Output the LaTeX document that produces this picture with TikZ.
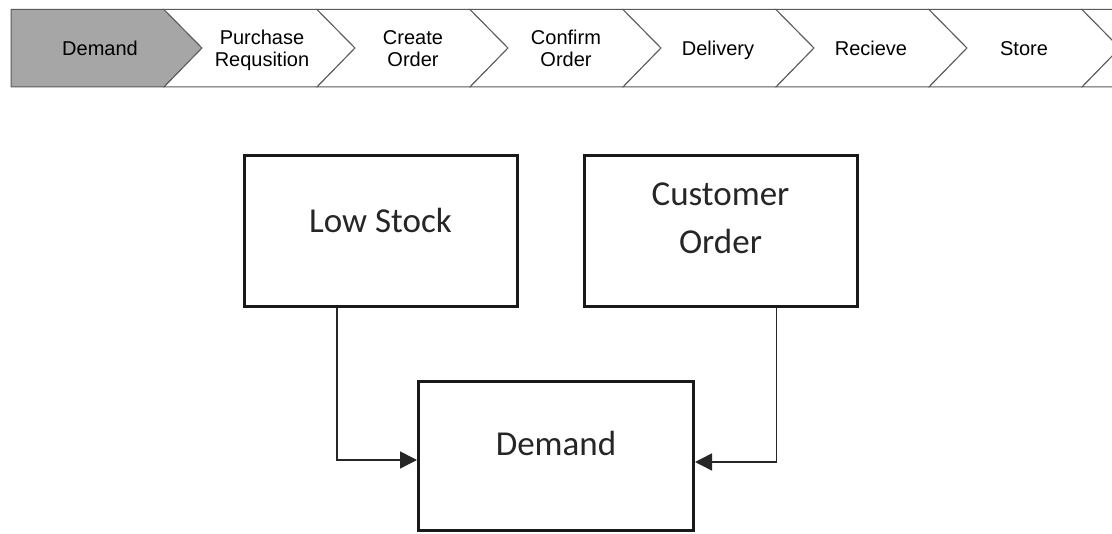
\documentclass[tikz,border=0pt]{standalone}
\usepackage{fontspec}
\setmainfont{Liberation Sans}
\newfontfamily\boxfont{Carlito}
\usetikzlibrary{arrows.meta}

\definecolor{stepline}{HTML}{5A5A5A}
\definecolor{stepfill}{HTML}{A6A6A6}

\tikzset{
  chevron/.style={draw=stepline, line width=1pt, line join=miter},
  steptext/.style={font=\fontsize{20}{22}\selectfont, align=center, inner sep=0pt, text=black},
  blockbox/.style={draw=black!90, line width=3pt, minimum width=273pt, minimum height=151pt, inner sep=0pt},
  blocktext/.style={font=\boxfont\fontsize{35}{48}\selectfont, align=center, inner sep=0pt, text=black!85},
  conn/.style={draw=black!85, line width=1.5pt, -{Triangle[length=17pt,width=17pt]}}
}

\begin{document}
\begin{tikzpicture}[x=1pt, y=-1pt]
  \useasboundingbox (0,0) rectangle (1112,534);
  \clip (0,0) rectangle (1112,534);

  % process chevrons along the top
  \def\ya{9.5}\def\yb{48}\def\yc{87}\def\dp{38}
  \fill[white] (0,0) rectangle (1112,534);
  \path[chevron, fill=stepfill] (11,\ya) -- (164,\ya) -- (164+\dp,\yb) -- (164,\yc) -- (11,\yc) -- cycle;
  \foreach \l/\r in {164/317, 317/470, 470/623, 623/776, 776/929, 929/1082, 1082/1235} {
    \path[chevron, fill=white] (\l,\ya) -- (\r,\ya) -- (\r+\dp,\yb) -- (\r,\yc) -- (\l,\yc) -- (\l+\dp,\yb) -- cycle;
  }

  \node[steptext] (s1) at (100,48.5) {Demand};
  \node[steptext] (s2) at (262,48.5) {Purchase\\Requsition};
  \node[steptext] (s3) at (413,48.5) {Create\\Order};
  \node[steptext] (s4) at (566,48.5) {Confirm\\Order};
  \node[steptext] (s5) at (718,48.5) {Delivery};
  \node[steptext] (s6) at (871,48.5) {Recieve};
  \node[steptext] (s7) at (1024,48.5) {Store};

  % demand sources
  \node[blockbox] (low) at (380.5,231.5) {};
  \node[blockbox] (cust) at (720.5,231.5) {};
  \node[blockbox, minimum width=275pt, minimum height=149pt] (dem) at (556,456.5) {};

  \node[blocktext] (lowtxt) at (380.5,220) {Low Stock};
  \node[blocktext] (custtxt) at (720.5,218) {Customer\\Order};
  \node[blocktext] (demtxt) at (556,443) {Demand};

  % connectors into the demand box
  \draw[conn] ([xshift=-43.5pt]low.south) |- ([yshift=-3.5pt]dem.west);
  \draw[conn] ([xshift=56pt]cust.south) |- ([yshift=-5.5pt]dem.east);
\end{tikzpicture}
\end{document}
